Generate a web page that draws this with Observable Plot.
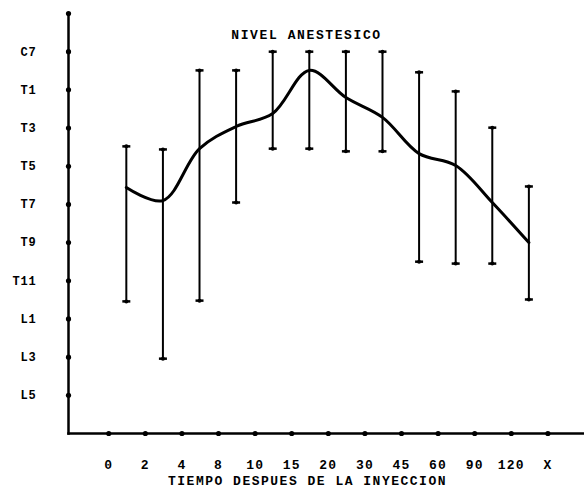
<!DOCTYPE html>
<html>
<head>
<meta charset="utf-8">
<script src="https://cdn.jsdelivr.net/npm/d3@7"></script>
<script src="https://cdn.jsdelivr.net/npm/@observablehq/plot@0.6"></script>
<style>
  html, body { margin: 0; padding: 0; background: #fff; }
  svg { display: block; }
  .ttl text { letter-spacing: 1.6px; }
  .xttl text { letter-spacing: 1.5px; }
  .xax text { letter-spacing: 1.2px; }
  .yax text { letter-spacing: 0.8px; }
</style>
</head>
<body>
<div id="chart"></div>
<script>
// Tick labels
const xLabels = ["0","2","4","8","10","15","20","30","45","60","90","120","X"];
const yLabels = ["C7","T1","T3","T5","T7","T9","T11","L1","L3","L5"];
// Series (level index: C7 = 0, T1 = 1, ... L5 = 9), one value per time category
const barTimes = ["0","2","4","8","10","15","20","30","45","60","90","120"];
const upper = [2.48, 2.56, 0.49, 0.49, 0.00, 0.00, 0.00, 0.00, 0.54, 1.04, 1.99, 3.53];
const mean  = [3.56, 3.90, 2.54, 1.96, 1.62, 0.49, 1.20, 1.72, 2.67, 2.98, 3.95, 5.00];
const lower = [6.54, 8.04, 6.52, 3.95, 2.54, 2.54, 2.61, 2.61, 5.50, 5.55, 5.55, 6.49];

const title = "NIVEL ANESTESICO";
const xTitle = "TIEMPO DESPUES DE LA INYECCION";

const barOffset = 0.48; // bars sit between ticks in the original
const data = barTimes.map((t, i) => ({
  t, x: xLabels.indexOf(t) + barOffset, hi: upper[i], m: mean[i], lo: lower[i]
}));

const font = "'Liberation Mono', 'DejaVu Sans Mono', monospace";
const capSymbol = {
  draw(ctx, size) {
    const r = Math.sqrt(size / Math.PI);
    ctx.moveTo(-r, 0); ctx.lineTo(r, 0);
  }
};

const chart = Plot.plot({
  width: 584,
  height: 496,
  marginLeft: 68,
  marginRight: 0,
  marginTop: 13,
  marginBottom: 63,
  style: { background: "#fff", fontFamily: font, color: "#000" },
  x: { domain: [-1.1, 13], axis: null },
  y: { domain: [10, -1], axis: null },
  marks: [
    Plot.frame({ anchor: "left", strokeWidth: 2.5, stroke: "#000" }),
    Plot.frame({ anchor: "bottom", strokeWidth: 2.5, stroke: "#000" }),
    Plot.dot(d3.range(-1, yLabels.length), { y: d => d, frameAnchor: "left", r: 2.6, fill: "#000" }),
    Plot.dot(d3.range(xLabels.length), { x: d => d, frameAnchor: "bottom", r: 2.6, fill: "#000" }),
    Plot.axisY(d3.range(yLabels.length), {
      tickFormat: i => yLabels[i], tickSize: 0, tickPadding: 32, label: null,
      fontSize: 12, fontWeight: "bold", fill: "#000", anchor: "left", className: "yax"
    }),
    Plot.axisX(d3.range(xLabels.length), {
      tickFormat: i => xLabels[i], tickSize: 0, tickPadding: 26, label: null,
      fontSize: 13, fontWeight: "bold", fill: "#000", anchor: "bottom", className: "xax"
    }),
    Plot.ruleX(data, { x: "x", y1: "hi", y2: "lo", strokeWidth: 2, stroke: "#000" }),
    Plot.dot(data, { x: "x", y: "hi", symbol: capSymbol, r: 4, stroke: "#000", strokeWidth: 2.5 }),
    Plot.dot(data, { x: "x", y: "lo", symbol: capSymbol, r: 4, stroke: "#000", strokeWidth: 2.5 }),
    Plot.dot(data, { x: "x", y: "hi", r: 2, fill: "#000" }),
    Plot.dot(data, { x: "x", y: "lo", r: 2, fill: "#000" }),
    Plot.line(data, { x: "x", y: "m", curve: "catmull-rom", stroke: "#000", strokeWidth: 3 }),
    Plot.text([title], {
      text: d => d, frameAnchor: "top", dy: 16, dx: -20,
      fontSize: 13, fontWeight: "bold", fill: "#000", className: "ttl"
    }),
    Plot.text([xTitle], {
      text: d => d, frameAnchor: "bottom", dy: 51, dx: -19,
      fontSize: 13, fontWeight: "bold", fill: "#000", className: "xttl"
    })
  ]
});
document.getElementById("chart").appendChild(chart);
</script>
</body>
</html>
